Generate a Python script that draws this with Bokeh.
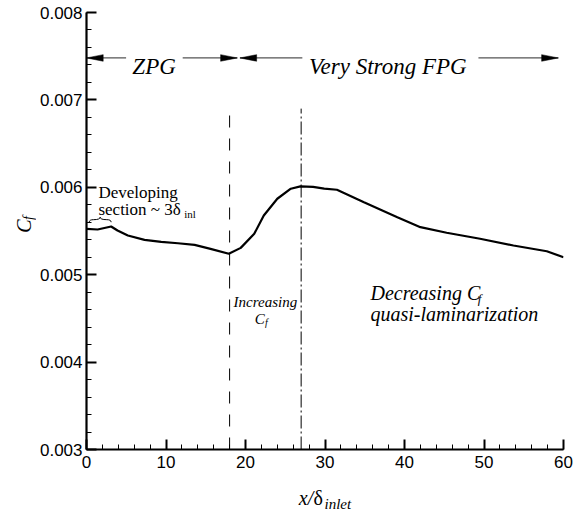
import numpy as np
from bokeh.plotting import figure
from bokeh.layouts import row, column
from bokeh.models import (Range1d, SingleIntervalTicker, PrintfTickFormatter, Label)
from bokeh.embed import file_html
from bokeh.resources import INLINE

# ---- data ----
x_pos = [0, 1.4, 3.1, 3.9, 5.2, 7.3, 9.4, 11.5, 13.6, 15.6, 17.9, 19.4, 21.1, 22.3,
         24.0, 25.7, 26.9, 28.5, 29.9, 31.5, 34.9, 39.1, 42.0, 45.3, 49.5, 53.7, 57.9, 60.0]
cf_vals = [0.005525, 0.005517, 0.005552, 0.005506, 0.005448, 0.005399, 0.005376, 0.00536,
           0.005342, 0.005296, 0.005239, 0.005307, 0.005468, 0.005678, 0.005869, 0.005984,
           0.00601, 0.006005, 0.005984, 0.005972, 0.00583, 0.005658, 0.005544, 0.00548,
           0.005411, 0.005334, 0.005268, 0.0052]
dashed_x = 18.0
dashdot_x = 27.0
region_line_top = 0.0069

# top region arrows
arrow_y = 0.00748
arrow_segments = [(0.0, 4.98), (12.1, 18.97), (19.3, 27.15), (49.3, 59.35)]
arrow_tips = [(0.0, "left"), (18.97, "right"), (19.3, "left"), (59.35, "right")]
head_len = 2.1
head_half = 0.000038

SERIF = "Liberation Serif"
SANS = "Liberation Sans"

LEFT_W = 36
BOTTOM_H = 30
TOTAL_W, TOTAL_H = 577, 510
MAIN_H = TOTAL_H - BOTTOM_H

p = figure(width=TOTAL_W - LEFT_W, height=MAIN_H, x_range=Range1d(0, 60),
           y_range=Range1d(0.003, 0.008), title=None,
           output_backend="svg", toolbar_location=None,
           min_border_left=85 - LEFT_W, min_border_right=14, min_border_top=12,
           min_border_bottom=MAIN_H - 449)
p.outline_line_color = None
p.xgrid.visible = False
p.ygrid.visible = False
p.background_fill_color = "white"
p.border_fill_color = "white"

for ax in (p.xaxis[0], p.yaxis[0]):
    ax.major_tick_in = 10
    ax.major_tick_out = 0
    ax.minor_tick_in = 5
    ax.minor_tick_out = 0
    ax.axis_line_width = 2.2
    ax.major_tick_line_width = 2
    ax.minor_tick_line_width = 1
    ax.axis_line_color = "black"
    ax.major_tick_line_color = "black"
    ax.minor_tick_line_color = "black"
    ax.major_label_text_font = SANS
    ax.major_label_text_font_size = "17px"
    ax.major_label_text_color = "black"

p.xaxis[0].ticker = SingleIntervalTicker(interval=10, num_minor_ticks=5)
p.yaxis[0].ticker = SingleIntervalTicker(interval=0.001, num_minor_ticks=5)
p.yaxis[0].formatter = PrintfTickFormatter(format="%.3f")
p.xaxis[0].major_label_standoff = 6
p.yaxis[0].major_label_standoff = 4

# curve
p.line(x_pos, cf_vals, line_color="black", line_width=2.2)

# region lines
p.segment(x0=[dashed_x], y0=[0.003], x1=[dashed_x], y1=[region_line_top],
          line_color="black", line_width=1, line_dash="12 11")
p.segment(x0=[dashdot_x], y0=[0.003], x1=[dashdot_x], y1=[region_line_top],
          line_color="black", line_width=1, line_dash="13 3 2 3")

# arrows
p.segment(x0=[s[0] for s in arrow_segments], y0=[arrow_y] * len(arrow_segments),
          x1=[s[1] for s in arrow_segments], y1=[arrow_y] * len(arrow_segments),
          line_color="#555555", line_width=1.3)
hx, hy = [], []
for tip, d in arrow_tips:
    base = tip + head_len if d == "left" else tip - head_len
    hx.append([tip, base, base])
    hy.append([arrow_y, arrow_y + head_half, arrow_y - head_half])
p.patches(hx, hy, fill_color="black", line_color="black", line_width=0.5)


def lab(fig, x, y, text, size, style="normal", font=SERIF, align="left",
        baseline="alphabetic", angle=0.0):
    fig.add_layout(Label(x=x, y=y, text=text, text_font=font, text_font_size=size,
                         text_font_style=style, text_align=align, text_baseline=baseline,
                         angle=angle, text_color="black"))


# top labels
lab(p, 8.5, 0.00738, "ZPG", "23px", "italic", align="center")
lab(p, 37.9, 0.00738, "Very Strong FPG", "23px", "italic", align="center")

# developing section
lab(p, 1.5, 0.005938, "Developing", "17px")
lab(p, 1.5, 0.005747, "section ~ 3\u03b4", "17px")
lab(p, 12.3, 0.005697, "inl", "11px")
bx0, bx1 = 0.34, 3.1
bm = 0.5 * (bx0 + bx1)
by0 = 0.005601
bh = 0.0000287
bq = 0.55
p.quadratic(x0=[bx0, bx0 + bq, bx1, bx1 - bq],
            y0=[by0, by0 + bh, by0, by0 + bh],
            x1=[bx0 + bq, bm, bx1 - bq, bm],
            y1=[by0 + bh, by0 + 2 * bh, by0 + bh, by0 + 2 * bh],
            cx=[bx0, bm, bx1, bm],
            cy=[by0 + bh, by0 + bh, by0 + bh, by0 + bh],
            line_color="black", line_width=1)

# increasing Cf
lab(p, 22.5, 0.004684, "Increasing", "15px", "italic", align="center")
lab(p, 22.42, 0.004497, "C", "15px", "italic", align="right")
lab(p, 22.45, 0.00445, "f", "10px", "italic")

# decreasing Cf
lab(p, 35.72, 0.004791, "Decreasing C", "20px", "italic")
lab(p, 49.2, 0.00473, "f", "13px", "italic")
lab(p, 35.72, 0.004555, "quasi-laminarization", "20px", "italic")

# ---- left strip: y axis title C_f (page pixel coordinates) ----
left = figure(width=LEFT_W, height=MAIN_H, x_range=Range1d(0, LEFT_W),
              y_range=Range1d(MAIN_H, 0), output_backend="svg", toolbar_location=None,
              title=None, x_axis_location=None, y_axis_location=None, min_border=0)
left.outline_line_color = None
left.grid.visible = False
left.border_fill_color = "white"
lab(left, 23, 242, "C", "20px", "italic", angle=np.pi / 2)
lab(left, 27.5, 228, "f", "14px", "italic", angle=np.pi / 2)

# ---- bottom strip: x axis title x/delta_inlet (page pixel coordinates) ----
bottom = figure(width=TOTAL_W, height=BOTTOM_H, x_range=Range1d(0, TOTAL_W),
                y_range=Range1d(TOTAL_H, MAIN_H), output_backend="svg",
                toolbar_location=None, title=None,
                x_axis_location=None, y_axis_location=None, min_border=0)
bottom.outline_line_color = None
bottom.grid.visible = False
bottom.border_fill_color = "white"
lab(bottom, 298.3, 497, "x/", "20px", "italic")
lab(bottom, 313, 497, "\u03b4", "20px")
lab(bottom, 324, 503, "inlet", "15px", "italic")

layout = column(row(left, p, spacing=0), bottom, spacing=0)
open("out.html", "w").write(file_html(layout, INLINE))
